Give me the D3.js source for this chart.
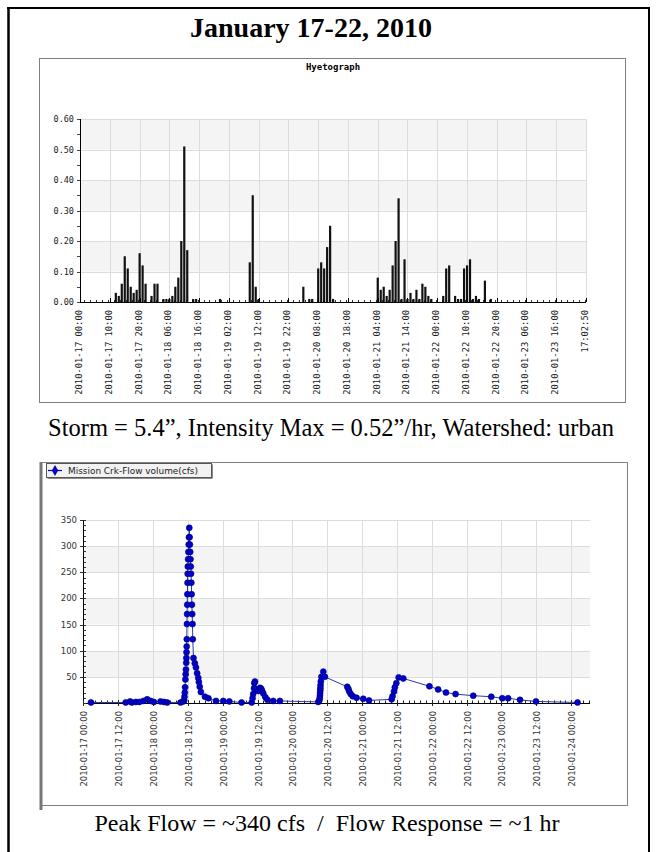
<!DOCTYPE html>
<html><head><meta charset="utf-8">
<script src="https://cdn.jsdelivr.net/npm/d3@7"></script>
<style>html,body{margin:0;padding:0;background:#fff}svg{display:block}</style>
</head><body>
<script>
// ---------------- DATA ----------------
const pageTitle = "January 17-22, 2010";
const hyetoTitle = "Hyetograph";
const stormCaption = "Storm = 5.4\u201d, Intensity Max = 0.52\u201d/hr, Watershed: urban";
const peakCaption = "Peak Flow = ~340 cfs  /  Flow Response = ~1 hr";
const legendLabel = "Mission Crk-Flow volume(cfs)";

// hourly categories, index 0 = 2010-01-17 00:00
const rainHourIndex = [12,13,14,15,16,17,18,19,20,21,22,24,25,26,28,29,30,31,32,33,34,35,36,38,39,47,
  57,58,59,60,75,77,78,80,81,82,83,84,85,
  100,101,102,103,104,105,106,107,108,109,110,111,112,113,114,115,116,117,118,
  122,123,124,126,127,128,129,130,131,132,133,134,136,138];
const rainValues = [0.03,0.02,0.06,0.15,0.11,0.05,0.03,0.04,0.16,0.12,0.06,0.02,0.06,0.06,0.01,0.01,0.01,0.02,0.05,0.08,0.20,0.51,0.17,0.01,0.01,0.01,
  0.13,0.35,0.05,0.01,0.05,0.01,0.01,0.11,0.13,0.11,0.18,0.25,0.01,
  0.08,0.04,0.05,0.02,0.04,0.12,0.20,0.34,0.01,0.14,0.01,0.03,0.01,0.04,0.01,0.06,0.05,0.02,0.01,
  0.02,0.11,0.12,0.02,0.01,0.01,0.11,0.12,0.14,0.01,0.02,0.01,0.07,0.01];
const hyetoCategoryCount = 170;
const hyetoTickIndex = [0,10,20,30,40,50,60,70,80,90,100,110,120,130,140,150,160,170];
const hyetoTickLabels = ["2010-01-17 00:00","2010-01-17 10:00","2010-01-17 20:00","2010-01-18 06:00",
  "2010-01-18 16:00","2010-01-19 02:00","2010-01-19 12:00","2010-01-19 22:00","2010-01-20 08:00",
  "2010-01-20 18:00","2010-01-21 04:00","2010-01-21 14:00","2010-01-22 00:00","2010-01-22 10:00",
  "2010-01-22 20:00","2010-01-23 06:00","2010-01-23 16:00","17:02:50"];
const hyetoYTicks = [0,0.1,0.2,0.3,0.4,0.5,0.6];

const flowTimes = [
 "2010-01-17 02:39","2010-01-17 14:36","2010-01-17 16:06","2010-01-17 16:42","2010-01-17 18:06","2010-01-17 19:18",
 "2010-01-17 20:42","2010-01-17 22:00","2010-01-17 23:12","2010-01-18 00:18","2010-01-18 02:36","2010-01-18 03:48",
 "2010-01-18 04:54","2010-01-18 09:30","2010-01-18 10:24","2010-01-18 10:45","2010-01-18 10:51","2010-01-18 10:57",
 "2010-01-18 11:03","2010-01-18 11:09","2010-01-18 11:15","2010-01-18 11:21","2010-01-18 11:27","2010-01-18 11:30",
 "2010-01-18 11:33","2010-01-18 11:36","2010-01-18 11:39","2010-01-18 11:42","2010-01-18 11:45","2010-01-18 11:48",
 "2010-01-18 11:51","2010-01-18 11:54","2010-01-18 11:57","2010-01-18 12:00","2010-01-18 12:06","2010-01-18 12:12",
 "2010-01-18 12:18","2010-01-18 12:24","2010-01-18 12:30","2010-01-18 12:36","2010-01-18 12:42","2010-01-18 12:48",
 "2010-01-18 12:54","2010-01-18 13:00","2010-01-18 13:06","2010-01-18 13:12","2010-01-18 13:18","2010-01-18 13:24",
 "2010-01-18 13:30","2010-01-18 13:36","2010-01-18 13:42","2010-01-18 13:57","2010-01-18 14:24","2010-01-18 14:48",
 "2010-01-18 15:12","2010-01-18 15:36","2010-01-18 15:48","2010-01-18 16:06","2010-01-18 16:30","2010-01-18 17:54",
 "2010-01-18 19:06","2010-01-18 21:42","2010-01-19 00:12","2010-01-19 02:18","2010-01-19 06:30","2010-01-19 10:00",
 "2010-01-19 10:18","2010-01-19 10:30","2010-01-19 10:48","2010-01-19 10:54","2010-01-19 11:06","2010-01-19 11:42",
 "2010-01-19 12:12","2010-01-19 12:54","2010-01-19 13:18","2010-01-19 13:36","2010-01-19 14:00","2010-01-19 14:42",
 "2010-01-19 15:24","2010-01-19 17:24","2010-01-19 19:42","2010-01-20 08:54","2010-01-20 09:18","2010-01-20 09:24",
 "2010-01-20 09:30","2010-01-20 09:33","2010-01-20 09:36","2010-01-20 09:39","2010-01-20 09:42","2010-01-20 09:48",
 "2010-01-20 10:00","2010-01-20 10:39","2010-01-20 11:12","2010-01-20 18:54","2010-01-20 19:18","2010-01-20 19:36",
 "2010-01-20 20:06","2010-01-20 20:48","2010-01-20 22:06","2010-01-21 00:24","2010-01-21 02:24","2010-01-21 10:12",
 "2010-01-21 10:30","2010-01-21 11:00","2010-01-21 11:18","2010-01-21 11:48","2010-01-21 12:36","2010-01-21 14:12",
 "2010-01-21 23:12","2010-01-22 02:12","2010-01-22 04:54","2010-01-22 08:12","2010-01-22 14:18","2010-01-22 20:30",
 "2010-01-23 00:18","2010-01-23 02:18","2010-01-23 06:24","2010-01-23 11:54","2010-01-24 02:12"];
const flowValues = [
 1,1,3,1,2,2, 4,7,4,2,3,2, 1,1,3,5,12,20, 30,45,55,64,77,86, 97,108,122,151,170,188,
 208,230,247,261,275,289, 303,317,335,317,303,289, 275,261,247,230,208,188, 170,151,122,86,76,68,
 57,48,40,31,21,12, 9,4,4,3,1,1, 9,17,28,38,41,26, 23,29,27,23,18,11, 6,4,4,2,5,9,
 14,19,24,28,34,41, 50,60,50,31,27,22, 17,13,10,8,5,7, 13,22,30,38,49,47,
 32,26,20,17,14,12, 9,9,6,3,1];
const flowStart = "2010-01-17 00:00";
const flowEnd = "2010-01-24 06:30";
const flowYTicks = [50,100,150,200,250,300,350];

// ---------------- DRAW ----------------
const W = 657, H = 852;
const svg = d3.select("body").append("svg").attr("width", W).attr("height", H);
svg.append("rect").attr("width", W).attr("height", H).attr("fill", "#fff");

// outer frame
svg.append("line").attr("x1", 8.5).attr("x2", 8.5).attr("y1", 7).attr("y2", H).attr("stroke", "#000").attr("stroke-width", 2.5);
svg.append("line").attr("x1", 7).attr("x2", 650).attr("y1", 8).attr("y2", 8).attr("stroke", "#000").attr("stroke-width", 2);
svg.append("line").attr("x1", 649).attr("x2", 649).attr("y1", 7).attr("y2", H).attr("stroke", "#000").attr("stroke-width", 2);

svg.append("text").attr("x", 311).attr("y", 37).attr("text-anchor", "middle")
  .attr("font-family", "Liberation Serif, Times New Roman, serif").attr("font-weight", "bold")
  .attr("font-size", 28).text(pageTitle);

// ---------- Hyetograph ----------
svg.append("rect").attr("x", 39.5).attr("y", 58.5).attr("width", 586).attr("height", 344)
  .attr("fill", "#fff").attr("stroke", "#808080").attr("stroke-width", 1);
svg.append("text").attr("x", 333).attr("y", 70).attr("text-anchor", "middle")
  .attr("font-family", "DejaVu Sans Mono, monospace").attr("font-weight", "bold").attr("font-size", 9)
  .text(hyetoTitle);

const hx = d3.scaleLinear().domain([0, hyetoCategoryCount]).range([80, 586]);
const hy = d3.scaleLinear().domain([0, 0.6]).range([302, 119]);
const hg = svg.append("g");
for (let k = 0; k < hyetoYTicks.length - 1; k++) {
  if (k % 2 === 1) {
    hg.append("rect").attr("x", hx(0)).attr("width", hx(hyetoCategoryCount) - hx(0))
      .attr("y", hy(hyetoYTicks[k + 1])).attr("height", hy(hyetoYTicks[k]) - hy(hyetoYTicks[k + 1]))
      .attr("fill", "#f4f4f4");
  }
}
hg.selectAll(".hgrid").data(hyetoYTicks).join("line")
  .attr("x1", hx(0)).attr("x2", hx(hyetoCategoryCount))
  .attr("y1", d => Math.round(hy(d)) + 0.5).attr("y2", d => Math.round(hy(d)) + 0.5)
  .attr("stroke", "#dcdcdc");
hg.selectAll(".vgrid").data(hyetoTickIndex.slice(1)).join("line")
  .attr("x1", d => Math.round(hx(d)) + 0.5).attr("x2", d => Math.round(hx(d)) + 0.5)
  .attr("y1", hy(0.6)).attr("y2", hy(0)).attr("stroke", "#dcdcdc");
hg.selectAll(".ctick").data(d3.range(1, hyetoCategoryCount, 2)).join("line")
  .attr("x1", d => Math.round(hx(d) + 1.5) + 0.5).attr("x2", d => Math.round(hx(d) + 1.5) + 0.5)
  .attr("y1", hy(0)).attr("y2", hy(0) - 2).attr("stroke", "#333");
hg.selectAll(".bar").data(rainHourIndex).join("rect")
  .attr("x", (d) => hx(d) - 1).attr("width", 2.2)
  .attr("y", (d, i) => hy(rainValues[i])).attr("height", (d, i) => hy(0) - hy(rainValues[i]))
  .attr("fill", "#111");
hg.append("line").attr("x1", hx(0)).attr("x2", hx(hyetoCategoryCount)).attr("y1", 302.5).attr("y2", 302.5).attr("stroke", "#000");
hg.append("line").attr("x1", 80.5).attr("x2", 80.5).attr("y1", hy(0.6)).attr("y2", 303).attr("stroke", "#000");
hg.selectAll(".hmaj").data(hyetoTickIndex).join("line")
  .attr("x1", d => Math.round(hx(d)) + 0.5).attr("x2", d => Math.round(hx(d)) + 0.5)
  .attr("y1", 302).attr("y2", 298).attr("stroke", "#000");
hg.selectAll(".ytk").data(d3.range(0, 0.601, 0.05)).join("line")
  .attr("x1", 77).attr("x2", 80).attr("y1", d => Math.round(hy(d)) + 0.5).attr("y2", d => Math.round(hy(d)) + 0.5)
  .attr("stroke", "#444");
hg.selectAll(".ylab").data(hyetoYTicks).join("text")
  .attr("x", 74).attr("y", d => hy(d) + 3).attr("text-anchor", "end")
  .attr("font-family", "DejaVu Sans Mono, monospace").attr("font-size", 8.5).attr("fill", "#222")
  .text(d => d3.format(".2f")(d));
hg.selectAll(".xlab").data(hyetoTickIndex).join("text")
  .attr("transform", d => `translate(${hx(d) + 2},310) rotate(-90)`).attr("text-anchor", "end")
  .attr("font-family", "DejaVu Sans Mono, monospace").attr("font-size", 8.8).attr("fill", "#222")
  .text((d, i) => hyetoTickLabels[i]);

svg.append("text").attr("x", 331).attr("y", 436).attr("text-anchor", "middle")
  .attr("font-family", "Liberation Serif, Times New Roman, serif").attr("font-size", 24.5)
  .text(stormCaption);

// ---------- Flow chart ----------
const parse = d3.timeParse("%Y-%m-%d %H:%M");
const fx = d3.scaleTime().domain([parse(flowStart), parse(flowEnd)]).range([83.3, 590]);
const fy = d3.scaleLinear().domain([0, 350]).range([703, 520]);
svg.append("rect").attr("x", 41.5).attr("y", 462.5).attr("width", 586).attr("height", 343)
  .attr("fill", "#fff").attr("stroke", "#808080").attr("stroke-width", 1);
svg.append("line").attr("x1", 41).attr("x2", 41).attr("y1", 462).attr("y2", 810).attr("stroke", "#777").attr("stroke-width", 3);

const fg = svg.append("g");
for (let k = 0; k < flowYTicks.length; k++) {
  const lo = k * 50, hi = lo + 50;
  if (k % 2 === 1) {
    fg.append("rect").attr("x", fx.range()[0]).attr("width", fx.range()[1] - fx.range()[0])
      .attr("y", fy(hi)).attr("height", fy(lo) - fy(hi)).attr("fill", "#f4f4f4");
  }
}
fg.selectAll(".hgrid").data(flowYTicks).join("line")
  .attr("x1", fx.range()[0]).attr("x2", fx.range()[1])
  .attr("y1", d => Math.round(fy(d)) + 0.5).attr("y2", d => Math.round(fy(d)) + 0.5).attr("stroke", "#dcdcdc");
const fTicks = d3.timeHour.every(12).range(parse(flowStart), parse(flowEnd));
fg.selectAll(".vgrid").data(fTicks.slice(1)).join("line")
  .attr("x1", d => Math.round(fx(d)) + 0.5).attr("x2", d => Math.round(fx(d)) + 0.5)
  .attr("y1", fy(350)).attr("y2", fy(0)).attr("stroke", "#dcdcdc");
fg.append("line").attr("x1", fx.range()[0]).attr("x2", fx.range()[1]).attr("y1", 703.5).attr("y2", 703.5).attr("stroke", "#000");
fg.append("line").attr("x1", 83.5).attr("x2", 83.5).attr("y1", fy(350)).attr("y2", 704).attr("stroke", "#000");
fg.selectAll(".xmin").data(d3.timeHour.every(2).range(parse(flowStart), parse(flowEnd))).join("line")
  .attr("x1", d => Math.round(fx(d)) + 0.5).attr("x2", d => Math.round(fx(d)) + 0.5)
  .attr("y1", 703).attr("y2", 700.5).attr("stroke", "#222");
fg.selectAll(".xmaj").data(fTicks).join("line")
  .attr("x1", d => Math.round(fx(d)) + 0.5).attr("x2", d => Math.round(fx(d)) + 0.5)
  .attr("y1", 700).attr("y2", 706).attr("stroke", "#222");
fg.selectAll(".ymin").data(d3.range(0, 351, 10)).join("line")
  .attr("x1", 83.5).attr("x2", 86).attr("y1", d => Math.round(fy(d)) + 0.5).attr("y2", d => Math.round(fy(d)) + 0.5)
  .attr("stroke", "#333");
fg.selectAll(".ymaj").data(flowYTicks).join("line")
  .attr("x1", 80).attr("x2", 83.5).attr("y1", d => Math.round(fy(d)) + 0.5).attr("y2", d => Math.round(fy(d)) + 0.5)
  .attr("stroke", "#333");
fg.selectAll(".ylab").data(flowYTicks).join("text")
  .attr("x", 77).attr("y", d => fy(d) + 3).attr("text-anchor", "end")
  .attr("font-family", "DejaVu Sans, sans-serif").attr("font-size", 8.5).attr("fill", "#333")
  .text(d => d);
const tfmt = d3.timeFormat("%Y-%m-%d %H:%M");
fg.selectAll(".xlab").data(fTicks).join("text")
  .attr("transform", d => `translate(${fx(d) + 4},711) rotate(-90)`).attr("text-anchor", "end")
  .attr("font-family", "DejaVu Sans, sans-serif").attr("font-size", 8.4).attr("fill", "#333")
  .text(d => tfmt(d));

const flowData = flowTimes.map((t, i) => ({ t: parse(t), v: flowValues[i] }));
fg.append("path").datum(flowData)
  .attr("d", d3.line().x(d => fx(d.t)).y(d => fy(d.v)))
  .attr("fill", "none").attr("stroke", "#2a3aa8").attr("stroke-width", 1);
fg.selectAll(".pt").data(flowData).join("circle")
  .attr("cx", d => fx(d.t)).attr("cy", d => fy(d.v)).attr("r", 3)
  .attr("fill", "#0000cc").attr("stroke", "#000070").attr("stroke-width", 0.6);

// legend
const lg = svg.append("g");
lg.append("rect").attr("x", 47.5).attr("y", 464.5).attr("width", 165).attr("height", 14)
  .attr("fill", "#1a1a1a");
lg.append("rect").attr("x", 46.5).attr("y", 463.5).attr("width", 165).attr("height", 14)
  .attr("fill", "#f2f2f2").attr("stroke", "#555");
lg.append("line").attr("x1", 48).attr("x2", 62).attr("y1", 470.5).attr("y2", 470.5).attr("stroke", "#0000cc").attr("stroke-width", 1.2);
lg.append("path").attr("d", d3.symbol(d3.symbolDiamond, 28)()).attr("transform", "translate(55,470.5)")
  .attr("fill", "#0000cc").attr("stroke", "#000070").attr("stroke-width", 0.5);
lg.append("text").attr("x", 68).attr("y", 473.5)
  .attr("font-family", "DejaVu Sans, sans-serif").attr("font-size", 8).attr("fill", "#222")
  .attr("textLength", 130).attr("lengthAdjust", "spacingAndGlyphs").text(legendLabel);

svg.append("text").attr("x", 327).attr("y", 831).attr("text-anchor", "middle")
  .attr("font-family", "Liberation Serif, Times New Roman, serif").attr("font-size", 24)
  .attr("xml:space", "preserve").style("white-space", "pre")
  .text(peakCaption);
</script>
</body></html>
